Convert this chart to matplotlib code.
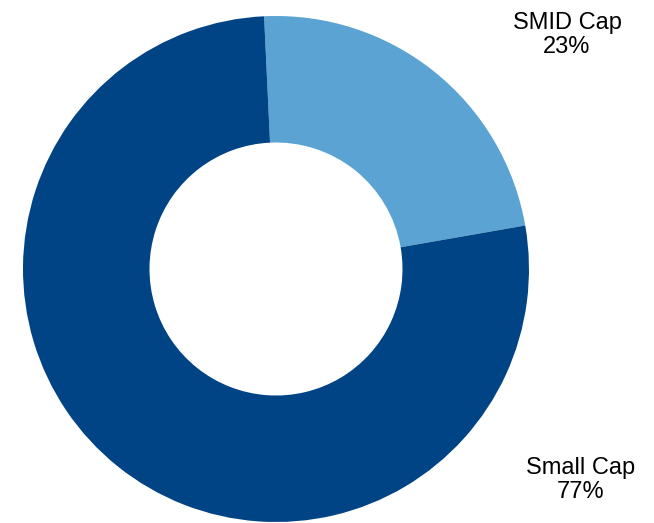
import matplotlib
matplotlib.use("Agg")
import matplotlib.pyplot as plt

# Allocation shares by market-cap segment
segments = ["SMID Cap", "Small Cap"]
shares = [23, 77]
colors = ["#5BA3D3", "#004486"]

W, H = 654, 523
fig = plt.figure(figsize=(W / 100, H / 100), dpi=100)

# Donut centre and radius in pixels
cx, cy, r = 276, 269, 253
ax = fig.add_axes([(cx - r) / W, (H - cy - r) / H, 2 * r / W, 2 * r / H])
ax.pie(shares, colors=colors, startangle=92.7, counterclock=False,
       radius=1, wedgeprops=dict(width=0.5, linewidth=0))
ax.set_xlim(-1, 1)
ax.set_ylim(-1, 1)
ax.set_aspect("equal")
ax.axis("off")

label_pos = {"SMID Cap": (567, 35), "Small Cap": (581, 480)}
for name, val in zip(segments, shares):
    x, y = label_pos[name]
    fig.text(x / W, 1 - y / H, f"{name}\n{val}%", ha="center", va="center",
             fontsize=17, family="Liberation Sans", linespacing=1.1)

fig.savefig("out.png", dpi=100)
